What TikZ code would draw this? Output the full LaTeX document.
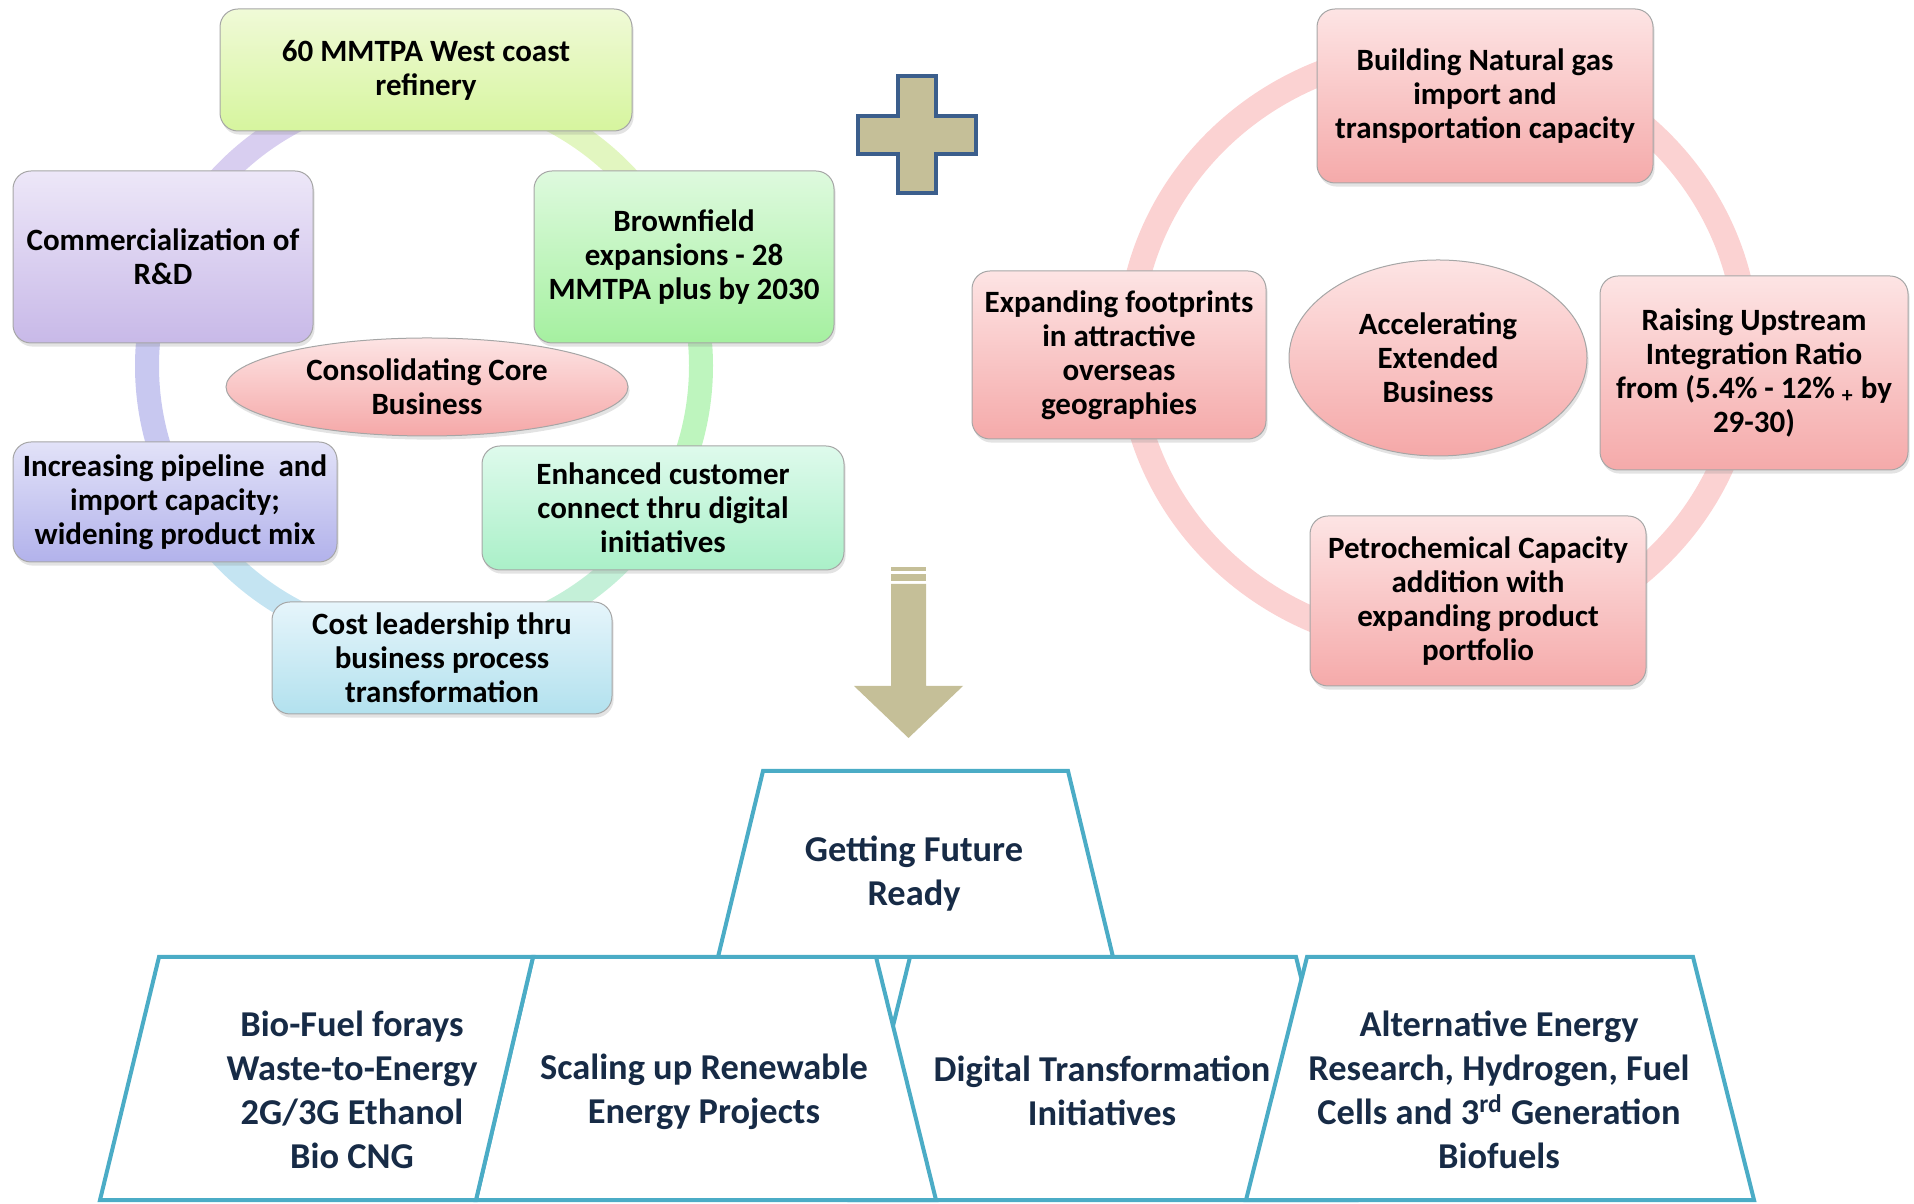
\documentclass[tikz,border=0pt]{standalone}
\usepackage{fontspec}
\setmainfont{Carlito}
\usetikzlibrary{shapes.geometric,shadows}
\definecolor{TierBlue}{RGB}{75,172,198}
\definecolor{TierText}{RGB}{23,43,70}
\definecolor{ArrowKhaki}{RGB}{197,191,152}
\definecolor{PlusBlue}{RGB}{59,94,140}
\definecolor{RingA}{RGB}{216,206,240}
\definecolor{RingB}{RGB}{200,200,240}
\definecolor{RingC}{RGB}{196,228,242}
\definecolor{RingD}{RGB}{196,240,216}
\definecolor{RingE}{RGB}{190,245,190}
\definecolor{RingF}{RGB}{226,246,192}
\definecolor{RingPink}{RGB}{251,210,210}
\begin{document}
\begin{tikzpicture}[x=0.5pt, y=0.5pt,
    cyclebox/.style={draw=black!35, line width=0.5pt, rounded corners=9pt, align=center, inner sep=2pt,
      font=\fontsize{15.5}{17}\selectfont\bfseries,
      drop shadow={opacity=0.22, shadow xshift=0.8pt, shadow yshift=-1.8pt}},
    hub/.style={cyclebox, ellipse, rounded corners=0pt},
    ring/.style={line width=12pt},
    tier/.style={draw=TierBlue, line width=2pt, fill=white},
    tiertext/.style={align=center, text=TierText, font=\fontsize{18.2}{22}\selectfont\bfseries}]
  \useasboundingbox (0,0) rectangle (1914,1203);

  % left cycle: ring first, then boxes
  \coordinate (lc) at (424,837);
  \draw[ring, RingA] (lc) ++(90:138.5pt) arc[start angle=90, end angle=157, radius=138.5pt];
  \draw[ring, RingB] (lc) ++(157:138.5pt) arc[start angle=157, end angle=209, radius=138.5pt];
  \draw[ring, RingC] (lc) ++(209:138.5pt) arc[start angle=209, end angle=274, radius=138.5pt];
  \draw[ring, RingD] (lc) ++(274:138.5pt) arc[start angle=274, end angle=329, radius=138.5pt];
  \draw[ring, RingE] (lc) ++(329:138.5pt) arc[start angle=329, end angle=383, radius=138.5pt];
  \draw[ring, RingF] (lc) ++(23:138.5pt) arc[start angle=23, end angle=90, radius=138.5pt];

  \node[cyclebox, top color={rgb,255:red,240;green,250;blue,215}, bottom color={rgb,255:red,214;green,245;blue,158},
    minimum width=206pt, minimum height=61pt] (refinery) at (426,1133) {60 MMTPA West coast\\refinery};
  \node[cyclebox, top color={rgb,255:red,237;green,231;blue,248}, bottom color={rgb,255:red,200;green,185;blue,232},
    minimum width=150pt, minimum height=86pt] (research) at (163,946) {Commercialization of\\R\&D};
  \node[cyclebox, top color={rgb,255:red,222;green,250;blue,222}, bottom color={rgb,255:red,165;green,240;blue,160},
    minimum width=150pt, minimum height=86pt] (brownfield) at (684,946) {Brownfield\\expansions - 28\\MMTPA plus by 2030};
  \node[cyclebox, top color={rgb,255:red,226;green,226;blue,248}, bottom color={rgb,255:red,178;green,178;blue,235},
    minimum width=162pt, minimum height=60pt] (pipeline) at (175,701) {Increasing pipeline\ \ and\\import capacity;\\widening product mix};
  \node[cyclebox, top color={rgb,255:red,222;green,250;blue,236}, bottom color={rgb,255:red,170;green,240;blue,200},
    minimum width=181pt, minimum height=62pt] (customer) at (663,695) {Enhanced customer\\connect thru digital\\initiatives};
  \node[cyclebox, top color={rgb,255:red,230;green,245;blue,251}, bottom color={rgb,255:red,178;green,225;blue,238},
    minimum width=170pt, minimum height=56pt] (costlead) at (442,545) {Cost leadership thru\\business process\\transformation};
  \node[hub, top color={rgb,255:red,253;green,228;blue,228}, bottom color={rgb,255:red,245;green,168;blue,168},
    minimum width=201pt, minimum height=49pt] (core) at (427,816) {Consolidating Core\\Business};

  % right cycle
  \draw[line width=12.5pt, RingPink] (1438,855) ellipse[x radius=154.5pt, y radius=148.5pt];
  \node[cyclebox, top color={rgb,255:red,253;green,228;blue,228}, bottom color={rgb,255:red,245;green,170;blue,170},
    minimum width=168pt, minimum height=87pt] (natgas) at (1485,1107) {Building Natural gas\\import and\\transportation capacity};
  \node[cyclebox, top color={rgb,255:red,253;green,228;blue,228}, bottom color={rgb,255:red,245;green,170;blue,170},
    minimum width=147pt, minimum height=84pt] (overseas) at (1119,848) {Expanding footprints\\in attractive\\overseas\\geographies};
  \node[cyclebox, top color={rgb,255:red,253;green,228;blue,228}, bottom color={rgb,255:red,245;green,170;blue,170},
    minimum width=154pt, minimum height=97pt] (upstream) at (1754,830) {Raising Upstream\\Integration Ratio\\from (5.4\% - 12\% \textsubscript{+} by\\29-30)};
  \node[cyclebox, top color={rgb,255:red,253;green,228;blue,228}, bottom color={rgb,255:red,245;green,170;blue,170},
    minimum width=168pt, minimum height=85pt] (petchem) at (1478,602) {Petrochemical Capacity\\addition with\\expanding product\\portfolio};
  \node[hub, top color={rgb,255:red,253;green,228;blue,228}, bottom color={rgb,255:red,245;green,168;blue,168},
    minimum width=149pt, minimum height=98pt] (extended) at (1438,845) {Accelerating\\Extended\\Business};

  % plus sign
  \filldraw[fill=ArrowKhaki, draw=PlusBlue, line width=2pt]
    (898,1127) -- (936,1127) -- (936,1087) -- (976,1087) -- (976,1049) -- (936,1049)
    -- (936,1010) -- (898,1010) -- (898,1049) -- (858,1049) -- (858,1087) -- (898,1087) -- cycle;

  % down arrow
  \fill[ArrowKhaki] (891,636) rectangle (926,632);
  \fill[ArrowKhaki] (891,629) rectangle (926,622);
  \fill[ArrowKhaki] (891,619) -- (926,619) -- (926,517) -- (963,517) -- (908.5,465)
    -- (854,517) -- (891,517) -- cycle;

  % bottom tiers
  \draw[tier] (910,246) -- (1296,246) -- (1356,3) -- (850,3) -- cycle;
  \draw[tier] (533,246) -- (876,246) -- (936,3) -- (476,3) -- cycle;
  \draw[tier] (1307,246) -- (1693,246) -- (1754,3) -- (1246,3) -- cycle;
  \draw[tier] (159,246) -- (533,246) -- (476,3) -- (100,3) -- cycle;
  \draw[tier] (763,432) -- (1068,432) -- (1113,246) -- (718,246) -- cycle;

  \node[tiertext] (future) at (914,329) {Getting Future\\Ready};
  \node[tiertext] (biofuel) at (352,113) {Bio-Fuel forays\\Waste-to-Energy\\2G/3G Ethanol\\Bio CNG};
  \node[tiertext] (renewable) at (704,111) {Scaling up Renewable\\Energy Projects};
  \node[tiertext] (digital) at (1102,112) {Digital Transformation\\Initiatives};
  \node[tiertext] (altenergy) at (1499,113) {Alternative Energy\\Research, Hydrogen, Fuel\\Cells and 3\textsuperscript{rd} Generation\\Biofuels};
\end{tikzpicture}
\end{document}
